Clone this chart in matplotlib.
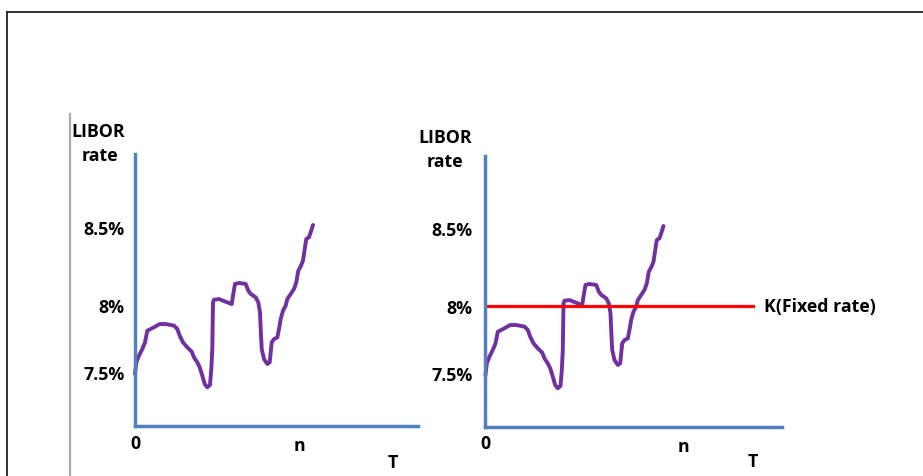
import numpy as np
import matplotlib.pyplot as plt
from matplotlib.lines import Line2D

plt.rcParams['font.family'] = ['Open Sans', 'DejaVu Sans']
plt.rcParams['font.weight'] = 'bold'

# LIBOR path (time in arbitrary units, rate in %)
t = [0, 1.3, 4, 7.3, 10, 12.3, 15.7, 20.7, 24.7, 30.7, 39, 42.3, 44.7, 48, 52.3,
     56.7, 59, 62.3, 64.7, 67.3, 69.7, 72.3, 75, 76.3, 77.3, 78, 79, 84, 90.7,
     96.7, 98, 100, 104, 110.7, 113.3, 115.7, 120.7, 123.3, 125, 125.7, 126.7,
     129, 132.3, 134.7, 136.7, 139, 142.3, 144, 145.7, 148, 150.7, 152.3, 155.7,
     159, 161.3, 163.3, 165.7, 168, 170, 171.3, 174, 175.7, 178]
rate = [7.485, 7.572, 7.622, 7.672, 7.721, 7.808, 7.821, 7.841, 7.858, 7.858,
        7.846, 7.821, 7.771, 7.721, 7.684, 7.652, 7.609, 7.572, 7.535, 7.473,
        7.410, 7.386, 7.403, 7.522, 7.672, 8.017, 8.034, 8.038, 8.021, 8.006,
        8.060, 8.135, 8.141, 8.135, 8.092, 8.071, 8.049, 8.017, 7.945, 7.821,
        7.672, 7.597, 7.560, 7.572, 7.721, 7.746, 7.758, 7.821, 7.896, 7.958,
        7.995, 8.038, 8.071, 8.103, 8.145, 8.220, 8.248, 8.284, 8.370, 8.423,
        8.434, 8.466, 8.513]
y_ticks = [7.5, 8.0, 8.5]
y_labels = ['7.5%', '8%', '8.5%']
fixed_rate = 8.0

W, H = 923, 477
fig = plt.figure(figsize=(W / 100, H / 100), dpi=100)


def box(x0, y0, x1, y1):
    # pixel box (y measured from top) -> figure fraction
    return [x0 / W, 1 - y1 / H, (x1 - x0) / W, (y1 - y0) / H]


def px(x, y):
    return x / W, 1 - y / H


# the sketch's rate axis is not evenly spaced
scale_r = [7.0, 7.5, 8.0, 8.5, 9.0]
scale_h = [-13, 54, 121, 199, 277]
fwd = lambda r: np.interp(r, scale_r, scale_h)
inv = lambda h: np.interp(h, scale_h, scale_r)

blue = '#4f81bd'
purple = '#7030a0'
fs = 12.8


def panel(b, width_px, height_px, pad):
    ax = fig.add_axes(box(*b))
    ax.set_yscale('function', functions=(fwd, inv))
    ax.set_xlim(0, width_px)
    ax.set_ylim(inv(0), inv(height_px))
    for s in ['top', 'right']:
        ax.spines[s].set_visible(False)
    for s in ['left', 'bottom']:
        ax.spines[s].set_color(blue)
        ax.spines[s].set_linewidth(2.5)
    ax.set_xticks([])
    ax.set_yticks(y_ticks)
    ax.set_yticklabels(y_labels)
    ax.tick_params(axis='y', length=0, pad=pad, labelsize=fs)
    ax.patch.set_alpha(0)
    ax.plot(t, rate, color=purple, lw=2.8, solid_capstyle='round', clip_on=False)
    return ax


ax1 = panel((135, 155, 418, 427), 283, 272, 7.5)
ax2 = panel((485.5, 157, 782, 428), 296.5, 271, 9.5)
ax2.axhline(fixed_rate, xmin=0, xmax=267.5 / 296.5, color='#ff0000', lw=2.3)

kw = dict(fontsize=fs, fontweight='bold', ha='center', va='center')
fig.text(*px(98.5, 132), 'LIBOR', **kw)
fig.text(*px(99.5, 156), 'rate', **kw)
fig.text(*px(135, 444), '0', **kw)
fig.text(*px(299, 446), 'n', **kw)
fig.text(*px(393, 463), 'T', **kw)

fig.text(*px(445, 138), 'LIBOR', **kw)
fig.text(*px(445, 162), 'rate', **kw)
fig.text(*px(485, 444), '0', **kw)
fig.text(*px(683, 447), 'n', **kw)
fig.text(*px(753, 462), 'T', **kw)
fig.text(*px(764, 307), 'K(Fixed rate)', fontsize=fs, fontweight='bold',
         ha='left', va='center')

# frame lines of the original slide
fig.add_artist(Line2D([7 / W, 1], [1 - 13 / H] * 2, color='#222222', lw=1.3))
fig.add_artist(Line2D([7 / W] * 2, [1 - 13 / H, 0], color='#222222', lw=1.3))
fig.add_artist(Line2D([70 / W] * 2, [1 - 115 / H, 0], color='#a8abb5', lw=1.6))

fig.savefig('out.png', dpi=100)
